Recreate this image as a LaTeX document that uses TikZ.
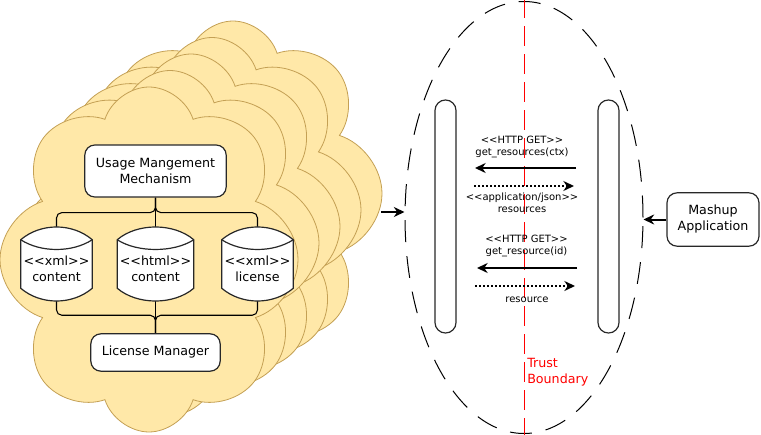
\documentclass[tikz,border=0pt]{standalone}
\usepackage{fontspec}
\setmainfont{DejaVu Sans}
\usetikzlibrary{shapes.symbols,shapes.geometric,arrows.meta}
\definecolor{cloudfill}{RGB}{255,232,168}
\definecolor{clouddraw}{RGB}{196,160,84}
\definecolor{boxdraw}{RGB}{40,40,40}
\pgfdeclarelayer{bg}
\pgfsetlayers{bg,main}
\tikzset{
        % Clouds of the service
        svc_cloud/.style={cloud, cloud puffs=8, cloud puff arc=145, cloud ignores aspect, draw=clouddraw, fill=cloudfill, line width=0.6pt, minimum width=223.5pt, minimum height=258.75pt, inner sep=0pt},
        % Rounded boxes
        box/.style={rectangle, rounded corners=7.5pt, draw=boxdraw, fill=white, line width=0.9pt, align=center, font=\fontsize{9.5}{12}\selectfont},
        % Data stores
        store/.style={rectangle, inner sep=0pt, minimum height=36pt, align=center, font=\fontsize{9.5}{12}\selectfont},
        store_line/.style={draw=boxdraw, fill=white, line width=0.9pt},
        % Connectors between boxes
        link/.style={draw=black, line width=0.8pt, rounded corners=4pt},
        % Lifelines
        lifeline/.style={rectangle, rounded corners=7.8pt, draw=boxdraw, line width=0.9pt, minimum width=15.75pt, minimum height=174.75pt, inner sep=0pt},
        % Messages
        call/.style={-{Stealth[length=8pt,width=7.5pt]}, line width=1.5pt},
        reply/.style={-{Stealth[length=8pt,width=7.5pt]}, line width=1.5pt, dash pattern=on 1.5pt off 1.5pt},
        msg/.style={align=center, font=\fontsize{7.5}{9}\selectfont, inner sep=0pt}
}
\begin{document}
\begin{tikzpicture}[x=0.75pt, y=-0.75pt]
            \useasboundingbox (0,0) rectangle (761,435);
            % Usage management side
            \node[box, minimum width=106pt, minimum height=39pt] (umm) at (155.5,171) {Usage Mangement\\Mechanism};
            \node[store, minimum width=53.25pt] (xmlc) at (56.5,269) {<{}<xml>{}>\\content};
            \node[store, minimum width=57pt] (htmlc) at (155.5,269) {<{}<html>{}>\\content};
            \node[store, minimum width=53.25pt] (xmll) at (257.5,269) {<{}<xml>{}>\\license};
            \node[box, minimum width=97pt, minimum height=28pt] (lm) at (155.5,352.5) {License Manager};
            \begin{pgfonlayer}{bg}
                \foreach \i in {4,...,0}
                    \node[svc_cloud] (cloud\i) at (149+21*\i, 259.5-16.5*\i) {};
                \draw[link] (umm.south) -- ++(0,15) -| (xmlc.north);
                \draw[link] (umm.south) -- (htmlc.north);
                \draw[link] (umm.south) -- ++(0,15) -| (xmll.north);
                \draw[link] (xmlc.south) -- ++(0,22) -| (lm.north);
                \draw[link] (htmlc.south) -- (lm.north);
                \draw[link] (xmll.south) -- ++(0,22) -| (lm.north);
                \foreach \n in {xmlc,htmlc,xmll} {
                    \draw[store_line] ([yshift=3.75pt]\n.north west) .. controls +(20,-17) and +(-20,-17) .. ([yshift=3.75pt]\n.north east)
                        -- ([yshift=3.75pt]\n.south east) .. controls +(-20,17) and +(20,17) .. ([yshift=3.75pt]\n.south west) -- cycle;
                    \draw[store_line, fill=none] ([yshift=3.75pt]\n.north west) .. controls +(20,13) and +(-20,13) .. ([yshift=3.75pt]\n.north east);
                }
            \end{pgfonlayer}
            % Trust boundary
            \node[ellipse, draw, dash pattern=on 16.5pt off 10.5pt, line width=0.75pt, minimum width=178.5pt, minimum height=324pt, inner sep=0pt] (boundary) at (524,217.5) {};
            \draw[red, dash pattern=on 15pt off 6pt, line width=0.75pt, shorten <=-2pt, shorten >=-2pt] (boundary.north) -- (boundary.south);
            \node[anchor=west, red, align=left, inner sep=0pt, font=\fontsize{9.5}{12}\selectfont] (trust) at (527,372) {Trust\\Boundary};
            \coordinate (svc_out) at (381,212);
            \draw[call] (svc_out) -- (svc_out -| boundary.west);
            % Lifelines and messages
            \node[lifeline] (provider) at (445.5,216.5) {};
            \node[lifeline] (consumer) at (608.5,216.5) {};
            \node[msg] (get1) at (522,146.5) {<{}<HTTP GET>{}>\\get\_resources(ctx)};
            \node[msg] (res1) at (522,202.5) {<{}<application/json>{}>\\resources};
            \node[msg] (get2) at (526.5,245.7) {<{}<HTTP GET>{}>\\get\_resource(id)};
            \node[msg] (res2) at (527,300) {resource};
            \coordinate (get1r) at (576,168);
            \coordinate (get1l) at (475,168);
            \coordinate (res1l) at (474,186);
            \coordinate (res1r) at (574,186);
            \coordinate (get2r) at (577,268);
            \coordinate (get2l) at (477,268);
            \coordinate (res2l) at (475,286);
            \coordinate (res2r) at (575,286);
            \draw[call] (get1r) -- (get1l);
            \draw[reply] (res1l) -- (res1r);
            \draw[call] (get2r) -- (get2l);
            \draw[reply] (res2l) -- (res2r);
            % Mashup application
            \node[box, minimum width=69pt, minimum height=40pt] (mashup) at (713,219.5) {Mashup\\Application};
            \draw[call] (mashup.west) -- (mashup.west -| boundary.east);
\end{tikzpicture}
\end{document}
